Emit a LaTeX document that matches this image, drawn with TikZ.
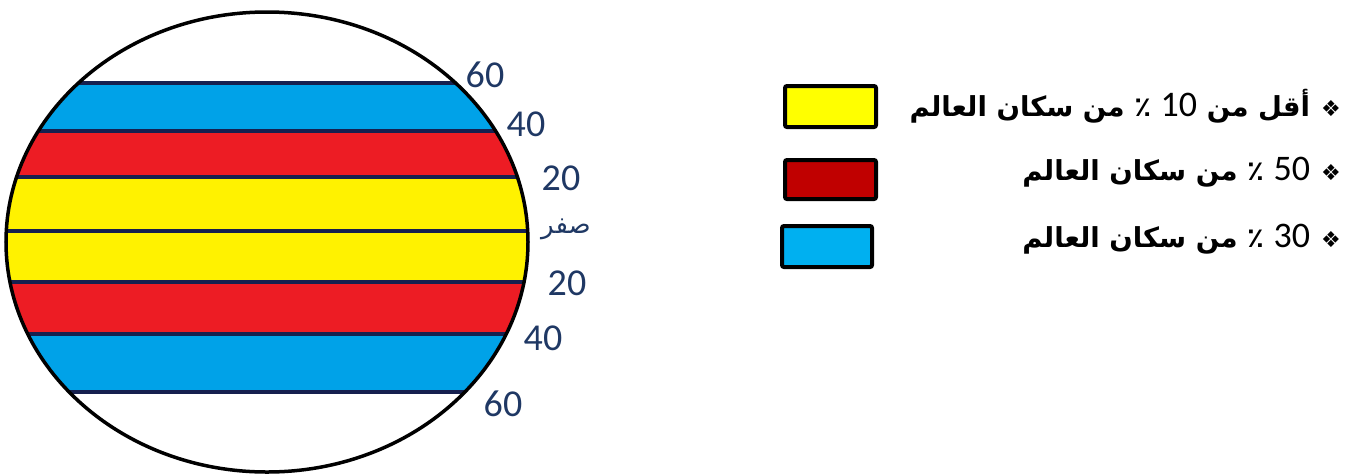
\documentclass[tikz,border=0pt]{standalone}
\usepackage{fontspec}
\setmainfont{Carlito}
\newfontfamily\arabicfont[Script=Arabic]{DejaVu Sans}
\newfontfamily\symbolfont{DejaVu Sans}
\TeXXeTstate=1
\usetikzlibrary{positioning}
\definecolor{BandBlue}{HTML}{00A2E8}
\definecolor{BandRed}{HTML}{ED1C24}
\definecolor{BandYellow}{HTML}{FFF200}
\definecolor{LineNavy}{HTML}{16204F}
\definecolor{LabelNavy}{HTML}{1F3864}
\definecolor{KeyYellow}{HTML}{FFFF00}
\definecolor{KeyRed}{HTML}{C00000}
\definecolor{KeyBlue}{HTML}{00B0F0}
\newcommand{\keybullet}{{\symbolfont\mdseries\fontsize{22}{22}\selectfont ❖}\hspace{11pt}}
\newcommand{\keynum}[1]{\beginL{\rmfamily\mdseries\fontsize{36}{36}\selectfont #1}\endL}
\tikzset{
  latlabel/.style={text=LabelNavy,inner sep=0pt,font=\fontsize{38}{40}\selectfont},
  keybox/.style={draw=black,line width=4pt,rounded corners=2pt,inner sep=0pt,
                 minimum width=91pt,minimum height=41pt},
  keytext/.style={anchor=east,inner sep=0pt,font=\arabicfont\bfseries\fontsize{27.5}{32}\selectfont},
  latline/.style={draw=LineNavy,line width=4pt}
}
\begin{document}
\begin{tikzpicture}[x=1pt,y=-1pt]
\useasboundingbox (0,0) rectangle (1352,475);
% globe with population bands
\begin{scope}
  \clip (267,242) ellipse [x radius=261, y radius=230];
  \fill[BandBlue]   (0,83)  rectangle (540,131);
  \fill[BandRed]    (0,131) rectangle (540,177);
  \fill[BandYellow] (0,177) rectangle (540,282);
  \fill[BandRed]    (0,282) rectangle (540,334);
  \fill[BandBlue]   (0,334) rectangle (540,392);
  \foreach \y in {83,131,177,231,282,334,392}
    \draw[latline] (0,\y) -- (540,\y);
\end{scope}
\draw[line width=3.5pt] (267,242) ellipse [x radius=261, y radius=230];

% latitude labels
\node[latlabel] (n60) at (485,75)  {60};
\node[latlabel] (n40) at (526,124) {40};
\node[latlabel] (n20) at (561,178) {20};
\node[latlabel,font=\arabicfont\fontsize{26}{30}\selectfont] (eq) at (566,229) {\beginR صفر\endR};
\node[latlabel] (s20) at (567,283) {20};
\node[latlabel] (s40) at (543,338) {40};
\node[latlabel] (s60) at (503,404) {60};

% legend
\node[keybox,fill=KeyYellow] (kyellow) at (830.5,106.5) {};
\node[keybox,fill=KeyRed,minimum height=39pt] (kred) at (830.5,179.5) {};
\node[keybox,fill=KeyBlue,minimum width=90pt] (kblue) at (827,246.5) {};
\node[keytext] (tyellow) at (1341,106) {\beginR\keybullet أقل من \keynum{10} ٪ من سكان العالم\endR};
\node[keytext] (tred)    at (1341,172) {\beginR\keybullet \keynum{50} ٪ من سكان العالم\endR};
\node[keytext] (tblue)   at (1341,239) {\beginR\keybullet \keynum{30} ٪ من سكان العالم\endR};
\end{tikzpicture}
\end{document}
